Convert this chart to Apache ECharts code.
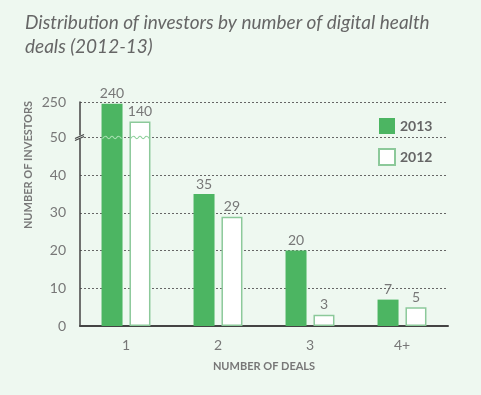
<!DOCTYPE html>
<html><head><meta charset="utf-8">
<script src="https://cdn.jsdelivr.net/npm/echarts@6/dist/echarts.min.js"></script>
<style>html,body{margin:0;padding:0;background:#eef8f0;}#c{width:481px;height:395px;}</style>
</head><body><div id="c"></div>
<script>
const categories = ['1', '2', '3', '4+'];
const investors2013 = [240, 35, 20, 7];
const investors2012 = [140, 29, 3, 5];
const yTickLabels = ['0', '10', '20', '30', '40', '50', '250'];
const BREAK_VAL = 50, TOP_VAL = 250, TOP_POS = 59.4;

function mapV(v) { return v <= BREAK_VAL ? v : BREAK_VAL + (v - BREAK_VAL) * (TOP_POS - BREAK_VAL) / (TOP_VAL - BREAK_VAL); }

const green = '#4cb562', lightGreen = '#8cc99a', txt = '#777';
const chart = echarts.init(document.getElementById('c'), null, {renderer: 'canvas'});
const font = 'Lato, "Open Sans", sans-serif';

const option = {
  backgroundColor: '#eef8f0',
  animation: false,
  textStyle: {fontFamily: font},
  title: {
    text: 'Distribution of investors by number of digital health\ndeals (2012-13)',
    left: 20, top: 6,
    textStyle: {fontFamily: font, fontStyle: 'italic', fontWeight: 'normal', fontSize: 19, lineHeight: 24, color: '#666'}
  },
  legend: {
    orient: 'vertical', left: 373, top: 113, itemWidth: 16, itemHeight: 16, itemGap: 14,
    textStyle: {fontFamily: font, fontSize: 14, fontWeight: 'bold', color: '#666'},
    data: [{name: '2013', icon: 'rect'}, {name: '2012', icon: 'rect'}]
  },
  grid: {left: 80, right: 33, top: 102, bottom: 69},
  xAxis: {
    type: 'category', data: categories,
    name: 'NUMBER OF DEALS', nameLocation: 'middle', nameGap: 35,
    nameTextStyle: {fontFamily: font, fontSize: 11, fontWeight: 'bold', color: '#777'},
    axisLine: {lineStyle: {color: '#444', width: 2}},
    axisTick: {show: false},
    axisLabel: {color: txt, fontSize: 14, margin: 12}
  },
  yAxis: {
    type: 'value', min: 0, max: TOP_POS, interval: 10,
    axisLine: {show: true, lineStyle: {color: '#444', width: 1.5}},
    axisTick: {show: false},
    axisLabel: {color: txt, fontSize: 14, margin: 14,
      formatter: v => v > BREAK_VAL ? yTickLabels[6] : yTickLabels[Math.round(v / 10)]},
    splitLine: {show: true, lineStyle: {color: '#666', type: [2, 2], width: 1}}
  },
  series: [
    {name: '2013', type: 'bar', barWidth: 21, barGap: '33%',
      data: investors2013.map(mapV),
      itemStyle: {color: green},
      label: {show: true, position: 'top', distance: 3, color: txt, fontSize: 14, fontFamily: font,
        formatter: p => investors2013[p.dataIndex]}},
    {name: '2012', type: 'bar', barWidth: 21,
      data: investors2012.map(mapV),
      itemStyle: {color: '#fff', borderColor: lightGreen, borderWidth: 1.5},
      label: {show: true, position: 'top', distance: 3, color: txt, fontSize: 14, fontFamily: font,
        formatter: p => investors2012[p.dataIndex]}}
  ]
};
chart.setOption(option);

// break decorations at the axis break value
function wave(x0, x1, y, color) {
  const pts = []; const n = 6;
  for (let i = 0; i <= n; i++) pts.push([x0 + (x1 - x0) * i / n, y + (i % 2 ? -1.2 : 1.2)]);
  return {type: 'polyline', shape: {points: pts, smooth: 0.5}, style: {stroke: color, lineWidth: 1.1, fill: null}, z: 100};
}
const gfx = [];
const yb = chart.convertToPixel({yAxisIndex: 0}, BREAK_VAL);
const x0 = chart.convertToPixel({xAxisIndex: 0}, categories[0]);
const barW = 21, gap = 7;
gfx.push(wave(x0 - gap / 2 - barW + 1, x0 - gap / 2 - 1, yb, '#a8e0b2'));
gfx.push(wave(x0 + gap / 2 + 1, x0 + gap / 2 + barW - 1, yb, '#8fd09c'));
const rect = chart.getModel().getComponent('grid').coordinateSystem.getRect();
const axX = rect.x;
gfx.push({type: 'rect', shape: {x: axX - 4, y: yb - 2, width: 8, height: 3}, style: {fill: '#eef8f0'}, z: 100});
gfx.push({type: 'line', shape: {x1: axX - 5, y1: yb + 1, x2: axX + 4, y2: yb - 3}, style: {stroke: '#444', lineWidth: 1.2}, z: 101});
gfx.push({type: 'line', shape: {x1: axX - 5, y1: yb + 3, x2: axX + 4, y2: yb - 1}, style: {stroke: '#444', lineWidth: 1.2}, z: 101});
// y axis title
gfx.push({type: 'text', x: 28, y: 165, rotation: Math.PI / 2, z: 100,
  style: {text: 'NUMBER OF INVESTORS', font: 'bold 11px ' + font, fill: '#777', align: 'center', verticalAlign: 'middle'}});
chart.setOption({graphic: gfx});
</script></body></html>
